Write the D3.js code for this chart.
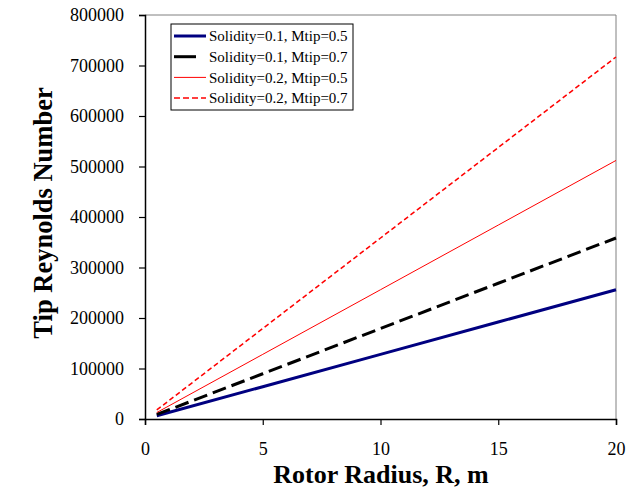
<!DOCTYPE html>
<html>
<head>
<meta charset="utf-8">
<script src="https://cdn.jsdelivr.net/npm/d3@7.9.0/dist/d3.min.js"></script>
<style>
  body { margin: 0; background: #fff; }
  svg text { font-family: 'Liberation Serif', Tinos, 'Times New Roman', serif; }
</style>
</head>
<body>
<div id="chart"></div>
<script>
// values
const radius = [0.5, 5, 10, 15, 20];
const reS1M5 = [6400, 64000, 128000, 192000, 256000];
const reS1M7 = [9000, 89600, 179200, 268800, 358400];
const reS2M5 = [12800, 128000, 256000, 384000, 512000];
const reS2M7 = [17900, 179200, 358400, 537600, 716800];
const seriesNames = [
  "Solidity=0.1, Mtip=0.5",
  "Solidity=0.1, Mtip=0.7",
  "Solidity=0.2, Mtip=0.5",
  "Solidity=0.2, Mtip=0.7"
];
const xTicks = [0, 5, 10, 15, 20];
const yTicks = [0, 100000, 200000, 300000, 400000, 500000, 600000, 700000, 800000];

const styles = [
  { color: "#000080", width: 3, dash: null },
  { color: "#000000", width: 3, dash: "14,6" },
  { color: "#ff0000", width: 1, dash: null },
  { color: "#ff0000", width: 1.5, dash: "5,3" }
];
const series = [reS1M5, reS1M7, reS2M5, reS2M7].map((vals, i) => ({
  name: seriesNames[i],
  points: radius.map((r, j) => ({ r: r, re: vals[j] })),
  style: styles[i]
}));

const width = 637, height = 491;
const area = { left: 145, right: 616, top: 15, bottom: 419 };

const svg = d3.select("#chart").append("svg")
  .attr("width", width).attr("height", height);

const x = d3.scaleLinear().domain([0, 20]).range([area.left, area.right]);
const y = d3.scaleLinear().domain([0, 800000]).range([area.bottom, area.top]);

// plot frame (top and right in grey)
svg.append("path")
  .attr("d", `M${area.left},${area.top}H${area.right}V${area.bottom}`)
  .attr("fill", "none").attr("stroke", "#808080").attr("stroke-width", 1);

const line = d3.line().x(d => x(d.r)).y(d => y(d.re));

svg.append("g").selectAll("path")
  .data(series)
  .join("path")
  .attr("d", d => line(d.points))
  .attr("fill", "none")
  .attr("stroke", d => d.style.color)
  .attr("stroke-width", d => d.style.width)
  .attr("stroke-dasharray", d => d.style.dash);

// axes
const xAxis = svg.append("g")
  .attr("transform", `translate(0,${area.bottom})`)
  .call(d3.axisBottom(x).tickValues(xTicks).tickSize(6).tickPadding(17));
const yAxis = svg.append("g")
  .attr("transform", `translate(${area.left},0)`)
  .call(d3.axisLeft(y).tickValues(yTicks).tickSize(6).tickPadding(15).tickFormat(d3.format("d")));
[xAxis, yAxis].forEach(g => {
  g.attr("font-family", null);
  g.select(".domain").attr("stroke", "#000").attr("stroke-width", 1.5);
  g.selectAll(".tick line").attr("stroke", "#000").attr("stroke-width", 1.2);
  g.selectAll("text").attr("font-size", 18).attr("fill", "#000");
});

// axis titles
svg.append("text")
  .attr("x", 381).attr("y", 483)
  .attr("text-anchor", "middle")
  .attr("font-size", 26).attr("font-weight", "bold")
  .text("Rotor Radius, R, m");
svg.append("text")
  .attr("transform", "translate(52,213) rotate(-90)")
  .attr("text-anchor", "middle")
  .attr("font-size", 26.5).attr("font-weight", "bold")
  .text("Tip Reynolds Number");

// legend
const legend = svg.append("g").attr("transform", "translate(171,24)");
legend.append("rect")
  .attr("width", 182).attr("height", 86)
  .attr("fill", "#fff").attr("stroke", "#000").attr("stroke-width", 1);
const entry = legend.selectAll("g.entry")
  .data(series)
  .join("g")
  .attr("class", "entry")
  .attr("transform", (d, i) => `translate(0,${12 + i * 20.7})`);
entry.append("line")
  .attr("x1", 3).attr("x2", 35)
  .attr("stroke", d => d.style.color)
  .attr("stroke-width", d => d.style.width)
  .attr("stroke-dasharray", d => d.style.dash ? (d.style.width > 2 ? "22,20" : "6,3") : null);
entry.append("text")
  .attr("x", 38).attr("dy", "0.35em")
  .attr("font-size", 15)
  .text(d => d.name);
</script>
</body>
</html>
